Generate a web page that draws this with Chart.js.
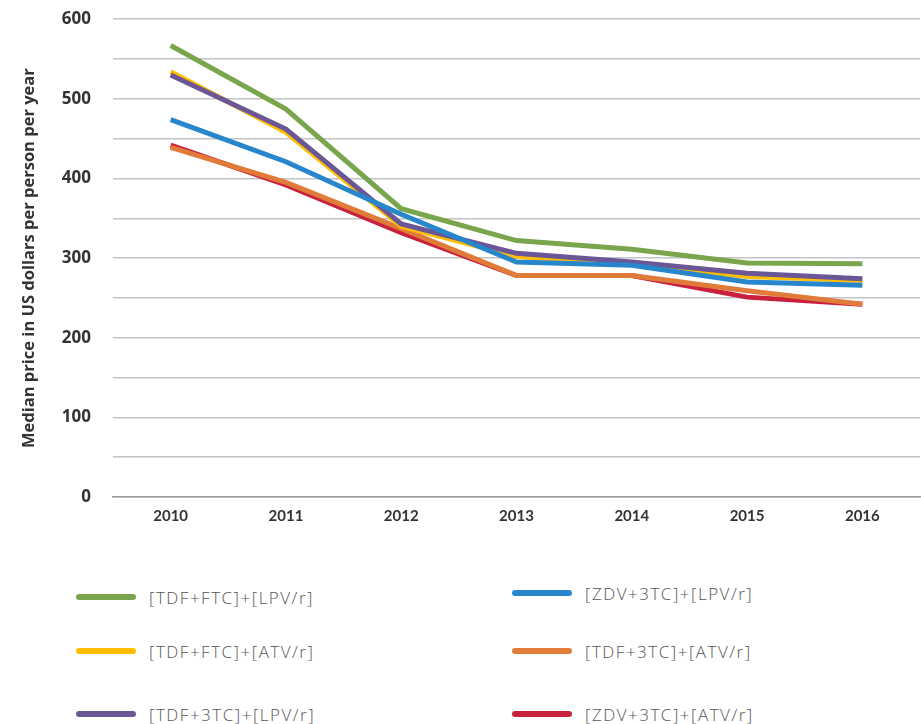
<!DOCTYPE html>
<html>
<head>
<meta charset="utf-8">
<script src="https://cdn.jsdelivr.net/npm/chart.js@4/dist/chart.umd.min.js"></script>
<style>
    body { margin: 0; background: #fff; overflow: hidden; }
    .wrap { position: relative; width: 921px; height: 724px; overflow: hidden; }
    .chart-box { position: absolute; left: 0; top: -13px; width: 921px; height: 548px; }
    .legend-item { position: absolute; display: flex; align-items: center; font-family: "Open Sans", sans-serif; font-weight: 300; font-size: 17px; letter-spacing: 1.5px; color: #555; white-space: nowrap; }
    .legend-item .swatch { width: 60px; height: 6px; border-radius: 3px; margin-right: 13px; }
</style>
</head>
<body>
<div class="wrap">
    <div class="chart-box"><canvas id="priceChart"></canvas></div>
    <div id="legend"></div>
</div>
<script>
// Median price in US dollars per person per year
const years = ['2010', '2011', '2012', '2013', '2014', '2015', '2016'];
const yTicks = [0, 100, 200, 300, 400, 500, 600];

const tdfFtcLpv = [567, 487, 362, 322, 311, 294, 293];
const tdfFtcAtv = [534, 458, 340, 302, 293, 277, 272];
const tdf3tcLpv = [530, 462, 343, 306, 295, 281, 274];
const zdv3tcLpv = [474, 421, 355, 295, 291, 270, 266];
const tdf3tcAtv = [439, 395, 337, 278, 278, 259, 242];
const zdv3tcAtv = [442, 392, 332, 278, 278, 251, 242];

const seriesNames = ['[TDF+FTC]+[LPV/r]', '[TDF+FTC]+[ATV/r]', '[TDF+3TC]+[LPV/r]',
    '[ZDV+3TC]+[LPV/r]', '[TDF+3TC]+[ATV/r]', '[ZDV+3TC]+[ATV/r]'];
const seriesColors = ['#79a54c', '#ffbf00', '#6b5796', '#2786cc', '#e07b39', '#c8213e'];
const seriesValues = [tdfFtcLpv, tdfFtcAtv, tdf3tcLpv, zdv3tcLpv, tdf3tcAtv, zdv3tcAtv];
// draw order (higher = underneath)
const drawOrder = [4, 3, 2, 1, 5, 6];

const datasets = seriesNames.map((name, i) => ({
    label: name,
    data: seriesValues[i],
    borderColor: seriesColors[i],
    backgroundColor: seriesColors[i],
    borderWidth: 5,
    pointRadius: 0,
    tension: 0,
    order: drawOrder[i]
}));

const ctx = document.getElementById('priceChart').getContext('2d');
new Chart(ctx, {
    type: 'line',
    data: { labels: years, datasets: datasets },
    options: {
        responsive: true,
        maintainAspectRatio: false,
        animation: false,
        layout: { padding: { top: 10, right: 1, left: 19, bottom: 0 } },
        plugins: {
            legend: { display: false },
            tooltip: { enabled: false }
        },
        scales: {
            x: {
                offset: true,
                grid: { display: false, drawTicks: false },
                border: { color: '#9a9a9a', width: 1.5 },
                ticks: {
                    color: '#333',
                    padding: 10,
                    font: { family: 'Lato', weight: 'bold', size: 15 }
                }
            },
            y: {
                min: 0,
                max: 600,
                afterFit: function(scale) { scale.width = 94; },
                afterBuildTicks: function(scale) {
                    // gridlines every 50, labels only on the hundreds
                    const t = [];
                    for (let v = 0; v <= 600; v += 50) t.push({ value: v });
                    scale.ticks = t;
                },
                grid: { color: '#c4c4c4', lineWidth: 1.5, drawTicks: false },
                border: { display: false },
                ticks: {
                    color: '#333',
                    padding: 22,
                    font: { family: 'Open Sans', weight: 'bold', size: 17 },
                    callback: function(v) { return yTicks.includes(v) ? String(v) : ''; }
                },
                title: {
                    display: true,
                    text: 'Median price in US dollars per person per year',
                    color: '#333',
                    font: { family: 'Open Sans', weight: 'bold', size: 16.5 },
                    padding: { top: 0, bottom: 0 }
                }
            }
        }
    }
});

// legend in two columns below the chart
const legendCols = [76, 512];
const legendRows = [[597, 651, 714], [593, 651, 714]];
const legendBox = document.getElementById('legend');
seriesNames.forEach((name, i) => {
    const col = i < 3 ? 0 : 1;
    const row = i % 3;
    const item = document.createElement('div');
    item.className = 'legend-item';
    item.style.left = legendCols[col] + 'px';
    item.style.top = (legendRows[col][row] - 12) + 'px';
    item.style.height = '24px';
    item.innerHTML = '<span class="swatch" style="background:' + seriesColors[i] + '"></span>' + name;
    legendBox.appendChild(item);
});
</script>
</body>
</html>
